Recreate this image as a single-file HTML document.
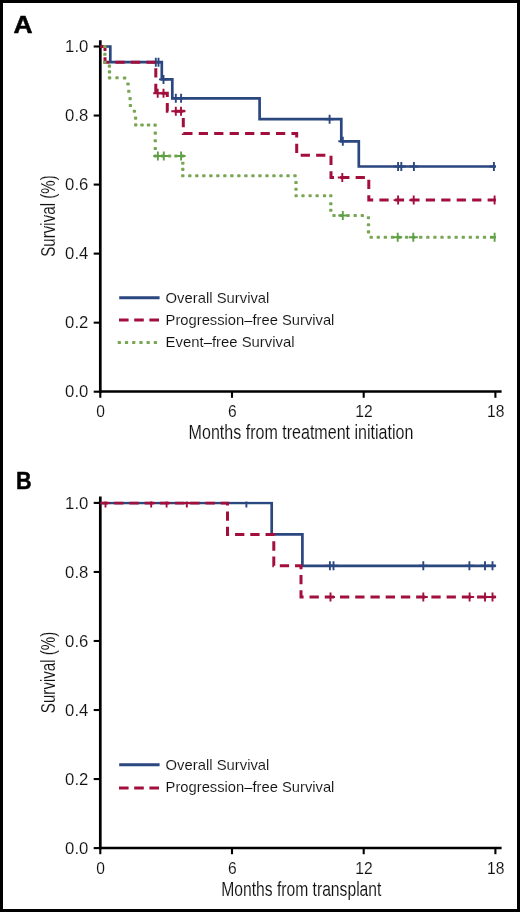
<!DOCTYPE html><html><head><meta charset="utf-8"><style>html,body{margin:0;padding:0;background:#fff;}svg{display:block;will-change:transform;}text{font-family:"Liberation Sans",sans-serif;stroke:#fff;stroke-width:0.1px;paint-order:fill;}</style></head><body>
<svg width="520" height="912" viewBox="0 0 520 912">
<rect x="0" y="0" width="520" height="912" fill="#fff"/>
<rect x="1.5" y="1.5" width="517" height="909" fill="none" stroke="#000" stroke-width="3"/>
<line x1="100.3" y1="40.2" x2="100.3" y2="392.8" stroke="#000" stroke-width="2.7"/>
<line x1="99" y1="391.6" x2="501.6" y2="391.6" stroke="#000" stroke-width="2.5"/>
<line x1="93.7" y1="391.70" x2="100.3" y2="391.70" stroke="#000" stroke-width="2.1"/>
<text transform="translate(88.3,397.30) scale(1.07,1)" font-size="15.6" fill="#111111" text-anchor="end">0.0</text>
<line x1="93.7" y1="322.66" x2="100.3" y2="322.66" stroke="#000" stroke-width="2.1"/>
<text transform="translate(88.3,328.26) scale(1.07,1)" font-size="15.6" fill="#111111" text-anchor="end">0.2</text>
<line x1="93.7" y1="253.62" x2="100.3" y2="253.62" stroke="#000" stroke-width="2.1"/>
<text transform="translate(88.3,259.22) scale(1.07,1)" font-size="15.6" fill="#111111" text-anchor="end">0.4</text>
<line x1="93.7" y1="184.58" x2="100.3" y2="184.58" stroke="#000" stroke-width="2.1"/>
<text transform="translate(88.3,190.18) scale(1.07,1)" font-size="15.6" fill="#111111" text-anchor="end">0.6</text>
<line x1="93.7" y1="115.54" x2="100.3" y2="115.54" stroke="#000" stroke-width="2.1"/>
<text transform="translate(88.3,121.14) scale(1.07,1)" font-size="15.6" fill="#111111" text-anchor="end">0.8</text>
<line x1="93.7" y1="46.50" x2="100.3" y2="46.50" stroke="#000" stroke-width="2.1"/>
<text transform="translate(88.3,52.10) scale(1.07,1)" font-size="15.6" fill="#111111" text-anchor="end">1.0</text>
<line x1="100.30" y1="391.6" x2="100.30" y2="397.8" stroke="#000" stroke-width="2.1"/>
<text x="100.60" y="416.8" font-size="15.6" fill="#111111" text-anchor="middle">0</text>
<line x1="232.00" y1="391.6" x2="232.00" y2="397.8" stroke="#000" stroke-width="2.1"/>
<text x="232.30" y="416.8" font-size="15.6" fill="#111111" text-anchor="middle">6</text>
<line x1="363.70" y1="391.6" x2="363.70" y2="397.8" stroke="#000" stroke-width="2.1"/>
<text x="364.00" y="416.8" font-size="15.6" fill="#111111" text-anchor="middle">12</text>
<line x1="495.40" y1="391.6" x2="495.40" y2="397.8" stroke="#000" stroke-width="2.1"/>
<text x="495.70" y="416.8" font-size="15.6" fill="#111111" text-anchor="middle">18</text>
<text x="188.6" y="438.8" font-size="19.3" fill="#111111" textLength="224.8" lengthAdjust="spacingAndGlyphs">Months from treatment initiation</text>
<text transform="translate(54.8,216.0) rotate(-90)" x="0" y="0" font-size="19.8" fill="#111111" text-anchor="middle" textLength="81.5" lengthAdjust="spacingAndGlyphs">Survival (%)</text>
<text transform="translate(13.4,32.7) scale(1.1,1)" font-size="24" font-weight="bold" fill="#000" style="stroke:#000;stroke-width:0.5px">A</text>
<line x1="100.3" y1="496.59999999999997" x2="100.3" y2="849.2" stroke="#000" stroke-width="2.7"/>
<line x1="99" y1="848.0" x2="501.6" y2="848.0" stroke="#000" stroke-width="2.5"/>
<line x1="93.7" y1="848.10" x2="100.3" y2="848.10" stroke="#000" stroke-width="2.1"/>
<text transform="translate(88.3,853.70) scale(1.07,1)" font-size="15.6" fill="#111111" text-anchor="end">0.0</text>
<line x1="93.7" y1="779.06" x2="100.3" y2="779.06" stroke="#000" stroke-width="2.1"/>
<text transform="translate(88.3,784.66) scale(1.07,1)" font-size="15.6" fill="#111111" text-anchor="end">0.2</text>
<line x1="93.7" y1="710.02" x2="100.3" y2="710.02" stroke="#000" stroke-width="2.1"/>
<text transform="translate(88.3,715.62) scale(1.07,1)" font-size="15.6" fill="#111111" text-anchor="end">0.4</text>
<line x1="93.7" y1="640.98" x2="100.3" y2="640.98" stroke="#000" stroke-width="2.1"/>
<text transform="translate(88.3,646.58) scale(1.07,1)" font-size="15.6" fill="#111111" text-anchor="end">0.6</text>
<line x1="93.7" y1="571.94" x2="100.3" y2="571.94" stroke="#000" stroke-width="2.1"/>
<text transform="translate(88.3,577.54) scale(1.07,1)" font-size="15.6" fill="#111111" text-anchor="end">0.8</text>
<line x1="93.7" y1="502.90" x2="100.3" y2="502.90" stroke="#000" stroke-width="2.1"/>
<text transform="translate(88.3,508.50) scale(1.07,1)" font-size="15.6" fill="#111111" text-anchor="end">1.0</text>
<line x1="100.30" y1="848.0" x2="100.30" y2="854.2" stroke="#000" stroke-width="2.1"/>
<text x="100.60" y="874.2" font-size="15.6" fill="#111111" text-anchor="middle">0</text>
<line x1="232.00" y1="848.0" x2="232.00" y2="854.2" stroke="#000" stroke-width="2.1"/>
<text x="232.30" y="874.2" font-size="15.6" fill="#111111" text-anchor="middle">6</text>
<line x1="363.70" y1="848.0" x2="363.70" y2="854.2" stroke="#000" stroke-width="2.1"/>
<text x="364.00" y="874.2" font-size="15.6" fill="#111111" text-anchor="middle">12</text>
<line x1="495.40" y1="848.0" x2="495.40" y2="854.2" stroke="#000" stroke-width="2.1"/>
<text x="495.70" y="874.2" font-size="15.6" fill="#111111" text-anchor="middle">18</text>
<text x="221.2" y="895.6" font-size="19.3" fill="#111111" textLength="160.2" lengthAdjust="spacingAndGlyphs">Months from transplant</text>
<text transform="translate(54.8,672.4) rotate(-90)" x="0" y="0" font-size="19.8" fill="#111111" text-anchor="middle" textLength="81.5" lengthAdjust="spacingAndGlyphs">Survival (%)</text>
<text transform="translate(16.0,489.1) scale(0.9,1)" font-size="24" font-weight="bold" fill="#000" style="stroke:#000;stroke-width:0.5px">B</text>
<defs><clipPath id="cA"><rect x="99" y="44.9" width="397.1" height="360"/></clipPath><clipPath id="cB"><rect x="99" y="501.5" width="397.1" height="360"/></clipPath></defs>
<g clip-path="url(#cA)">
<path d="M100.3 46.5 H110.3 V62.2 H161.8 V79.4 H172.3 V98.3 H259.6 V119.2 H341.3 V141.3 H358.8 V166.5 H495.6" fill="none" stroke="#2a4780" stroke-width="2.7" stroke-linejoin="miter" stroke-linecap="butt"/>
<path d="M155.8 57.7V66.7M151.3 62.2H160.3" stroke="#2a4780" stroke-width="1.9" fill="none"/>
<path d="M158.5 57.7V66.7M154.0 62.2H163.0" stroke="#2a4780" stroke-width="1.9" fill="none"/>
<path d="M163.5 74.9V83.9M159.0 79.4H168.0" stroke="#2a4780" stroke-width="1.9" fill="none"/>
<path d="M175.8 93.8V102.8M171.3 98.3H180.3" stroke="#2a4780" stroke-width="1.9" fill="none"/>
<path d="M181.1 93.8V102.8M176.6 98.3H185.6" stroke="#2a4780" stroke-width="1.9" fill="none"/>
<path d="M329.6 114.7V123.7M325.1 119.2H334.1" stroke="#2a4780" stroke-width="1.9" fill="none"/>
<path d="M342.8 136.8V145.8M338.3 141.3H347.3" stroke="#2a4780" stroke-width="1.9" fill="none"/>
<path d="M398.1 162.0V171.0M393.6 166.5H402.6" stroke="#2a4780" stroke-width="1.9" fill="none"/>
<path d="M401.3 162.0V171.0M396.8 166.5H405.8" stroke="#2a4780" stroke-width="1.9" fill="none"/>
<path d="M413.9 162.0V171.0M409.4 166.5H418.4" stroke="#2a4780" stroke-width="1.9" fill="none"/>
<path d="M493.9 162.0V171.0M489.4 166.5H498.4" stroke="#2a4780" stroke-width="1.9" fill="none"/>
<path d="M100.3 46.5 H105 V62.2 H155.8 V93.3 H167.3 V111.3 H183.3 V133.5 H296.7 V155.2 H331 V177.5 H368.8 V200.1 H495.6" fill="none" stroke="#a20f3c" stroke-width="3.0" stroke-dasharray="9.25 6.206" stroke-dashoffset="0.06" stroke-linecap="butt"/>
<path d="M157.7 88.8V97.8M153.2 93.3H162.2" stroke="#a20f3c" stroke-width="1.9" fill="none"/>
<path d="M163.5 88.8V97.8M159.0 93.3H168.0" stroke="#a20f3c" stroke-width="1.9" fill="none"/>
<path d="M175.8 106.8V115.8M171.3 111.3H180.3" stroke="#a20f3c" stroke-width="1.9" fill="none"/>
<path d="M181.0 106.8V115.8M176.5 111.3H185.5" stroke="#a20f3c" stroke-width="1.9" fill="none"/>
<path d="M342.3 173.0V182.0M337.8 177.5H346.8" stroke="#a20f3c" stroke-width="1.9" fill="none"/>
<path d="M398.1 195.6V204.6M393.6 200.1H402.6" stroke="#a20f3c" stroke-width="1.9" fill="none"/>
<path d="M413.7 195.6V204.6M409.2 200.1H418.2" stroke="#a20f3c" stroke-width="1.9" fill="none"/>
<path d="M494.6 195.6V204.6M490.1 200.1H499.1" stroke="#a20f3c" stroke-width="1.9" fill="none"/>
<rect x="103.25" y="44.95" width="3.3" height="3.1" rx="0.9" fill="#78a653"/><rect x="103.25" y="52.75" width="3.3" height="3.1" rx="0.9" fill="#78a653"/><rect x="103.25" y="60.65" width="3.3" height="3.1" rx="0.9" fill="#78a653"/><rect x="107.75" y="64.55" width="3.3" height="3.1" rx="0.9" fill="#78a653"/><rect x="107.85" y="70.35" width="3.3" height="3.1" rx="0.9" fill="#78a653"/><rect x="107.95" y="76.35" width="3.3" height="3.1" rx="0.9" fill="#78a653"/><rect x="115.35" y="76.25" width="3.3" height="3.1" rx="0.9" fill="#78a653"/><rect x="122.95" y="76.45" width="3.3" height="3.1" rx="0.9" fill="#78a653"/><rect x="126.35" y="82.45" width="3.3" height="3.1" rx="0.9" fill="#78a653"/><rect x="127.15" y="89.75" width="3.3" height="3.1" rx="0.9" fill="#78a653"/><rect x="128.45" y="97.05" width="3.3" height="3.1" rx="0.9" fill="#78a653"/><rect x="128.75" y="103.95" width="3.3" height="3.1" rx="0.9" fill="#78a653"/><rect x="132.75" y="109.65" width="3.3" height="3.1" rx="0.9" fill="#78a653"/><rect x="133.95" y="116.55" width="3.3" height="3.1" rx="0.9" fill="#78a653"/><rect x="134.05" y="123.35" width="3.3" height="3.1" rx="0.9" fill="#78a653"/><rect x="140.35" y="123.45" width="3.3" height="3.1" rx="0.9" fill="#78a653"/><rect x="146.85" y="123.45" width="3.3" height="3.1" rx="0.9" fill="#78a653"/><rect x="153.45" y="123.55" width="3.3" height="3.1" rx="0.9" fill="#78a653"/><rect x="153.65" y="131.55" width="3.3" height="3.1" rx="0.9" fill="#78a653"/><rect x="153.65" y="139.25" width="3.3" height="3.1" rx="0.9" fill="#78a653"/><rect x="153.65" y="146.95" width="3.3" height="3.1" rx="0.9" fill="#78a653"/><rect x="153.65" y="154.45" width="3.3" height="3.1" rx="0.9" fill="#78a653"/><rect x="160.75" y="154.45" width="3.3" height="3.1" rx="0.9" fill="#78a653"/><rect x="167.95" y="154.45" width="3.3" height="3.1" rx="0.9" fill="#78a653"/><rect x="174.25" y="154.45" width="3.3" height="3.1" rx="0.9" fill="#78a653"/><rect x="181.15" y="154.45" width="3.3" height="3.1" rx="0.9" fill="#78a653"/><rect x="181.15" y="161.65" width="3.3" height="3.1" rx="0.9" fill="#78a653"/><rect x="181.15" y="167.85" width="3.3" height="3.1" rx="0.9" fill="#78a653"/><rect x="181.15" y="174.25" width="3.3" height="3.1" rx="0.9" fill="#78a653"/><rect x="188.16" y="174.25" width="3.3" height="3.1" rx="0.9" fill="#78a653"/><rect x="195.18" y="174.25" width="3.3" height="3.1" rx="0.9" fill="#78a653"/><rect x="202.19" y="174.25" width="3.3" height="3.1" rx="0.9" fill="#78a653"/><rect x="209.20" y="174.25" width="3.3" height="3.1" rx="0.9" fill="#78a653"/><rect x="216.21" y="174.25" width="3.3" height="3.1" rx="0.9" fill="#78a653"/><rect x="223.22" y="174.25" width="3.3" height="3.1" rx="0.9" fill="#78a653"/><rect x="230.24" y="174.25" width="3.3" height="3.1" rx="0.9" fill="#78a653"/><rect x="237.25" y="174.25" width="3.3" height="3.1" rx="0.9" fill="#78a653"/><rect x="244.26" y="174.25" width="3.3" height="3.1" rx="0.9" fill="#78a653"/><rect x="251.28" y="174.25" width="3.3" height="3.1" rx="0.9" fill="#78a653"/><rect x="258.29" y="174.25" width="3.3" height="3.1" rx="0.9" fill="#78a653"/><rect x="265.30" y="174.25" width="3.3" height="3.1" rx="0.9" fill="#78a653"/><rect x="272.31" y="174.25" width="3.3" height="3.1" rx="0.9" fill="#78a653"/><rect x="279.33" y="174.25" width="3.3" height="3.1" rx="0.9" fill="#78a653"/><rect x="286.34" y="174.25" width="3.3" height="3.1" rx="0.9" fill="#78a653"/><rect x="293.35" y="174.25" width="3.3" height="3.1" rx="0.9" fill="#78a653"/><rect x="294.35" y="180.95" width="3.3" height="3.1" rx="0.9" fill="#78a653"/><rect x="294.35" y="187.65" width="3.3" height="3.1" rx="0.9" fill="#78a653"/><rect x="294.45" y="194.15" width="3.3" height="3.1" rx="0.9" fill="#78a653"/><rect x="301.35" y="194.15" width="3.3" height="3.1" rx="0.9" fill="#78a653"/><rect x="308.45" y="194.15" width="3.3" height="3.1" rx="0.9" fill="#78a653"/><rect x="315.45" y="194.15" width="3.3" height="3.1" rx="0.9" fill="#78a653"/><rect x="322.85" y="194.15" width="3.3" height="3.1" rx="0.9" fill="#78a653"/><rect x="329.15" y="194.15" width="3.3" height="3.1" rx="0.9" fill="#78a653"/><rect x="329.15" y="202.25" width="3.3" height="3.1" rx="0.9" fill="#78a653"/><rect x="329.15" y="208.75" width="3.3" height="3.1" rx="0.9" fill="#78a653"/><rect x="332.35" y="213.95" width="3.3" height="3.1" rx="0.9" fill="#78a653"/><rect x="339.45" y="213.95" width="3.3" height="3.1" rx="0.9" fill="#78a653"/><rect x="346.45" y="213.95" width="3.3" height="3.1" rx="0.9" fill="#78a653"/><rect x="353.55" y="213.95" width="3.3" height="3.1" rx="0.9" fill="#78a653"/><rect x="360.65" y="213.95" width="3.3" height="3.1" rx="0.9" fill="#78a653"/><rect x="366.75" y="216.15" width="3.3" height="3.1" rx="0.9" fill="#78a653"/><rect x="366.85" y="223.25" width="3.3" height="3.1" rx="0.9" fill="#78a653"/><rect x="366.85" y="230.35" width="3.3" height="3.1" rx="0.9" fill="#78a653"/><rect x="369.55" y="235.75" width="3.3" height="3.1" rx="0.9" fill="#78a653"/><rect x="376.63" y="235.75" width="3.3" height="3.1" rx="0.9" fill="#78a653"/><rect x="383.71" y="235.75" width="3.3" height="3.1" rx="0.9" fill="#78a653"/><rect x="390.79" y="235.75" width="3.3" height="3.1" rx="0.9" fill="#78a653"/><rect x="397.87" y="235.75" width="3.3" height="3.1" rx="0.9" fill="#78a653"/><rect x="404.95" y="235.75" width="3.3" height="3.1" rx="0.9" fill="#78a653"/><rect x="412.03" y="235.75" width="3.3" height="3.1" rx="0.9" fill="#78a653"/><rect x="419.11" y="235.75" width="3.3" height="3.1" rx="0.9" fill="#78a653"/><rect x="426.19" y="235.75" width="3.3" height="3.1" rx="0.9" fill="#78a653"/><rect x="433.27" y="235.75" width="3.3" height="3.1" rx="0.9" fill="#78a653"/><rect x="440.35" y="235.75" width="3.3" height="3.1" rx="0.9" fill="#78a653"/><rect x="447.43" y="235.75" width="3.3" height="3.1" rx="0.9" fill="#78a653"/><rect x="454.51" y="235.75" width="3.3" height="3.1" rx="0.9" fill="#78a653"/><rect x="461.59" y="235.75" width="3.3" height="3.1" rx="0.9" fill="#78a653"/><rect x="468.67" y="235.75" width="3.3" height="3.1" rx="0.9" fill="#78a653"/><rect x="475.75" y="235.75" width="3.3" height="3.1" rx="0.9" fill="#78a653"/><rect x="482.83" y="235.75" width="3.3" height="3.1" rx="0.9" fill="#78a653"/><rect x="489.91" y="235.75" width="3.3" height="3.1" rx="0.9" fill="#78a653"/>
<path d="M157.9 151.5V160.5M153.4 156H162.4" stroke="#5ea045" stroke-width="1.9" fill="none"/>
<path d="M163.8 151.5V160.5M159.3 156H168.3" stroke="#5ea045" stroke-width="1.9" fill="none"/>
<path d="M181.1 151.5V160.5M176.6 156H185.6" stroke="#5ea045" stroke-width="1.9" fill="none"/>
<path d="M342.8 211.0V220.0M338.3 215.5H347.3" stroke="#5ea045" stroke-width="1.9" fill="none"/>
<path d="M397.7 232.8V241.8M393.2 237.3H402.2" stroke="#5ea045" stroke-width="1.9" fill="none"/>
<path d="M413.3 232.8V241.8M408.8 237.3H417.8" stroke="#5ea045" stroke-width="1.9" fill="none"/>
<path d="M494.6 232.8V241.8M490.1 237.3H499.1" stroke="#5ea045" stroke-width="1.9" fill="none"/>
</g>
<g clip-path="url(#cB)">
<path d="M100.3 503 H271.7 V534.4 H302.4 V565.8 H495.6" fill="none" stroke="#2a4780" stroke-width="2.7" stroke-linejoin="miter" stroke-linecap="butt"/>
<path d="M246.4 498.5V507.5M241.9 503H250.9" stroke="#2a4780" stroke-width="1.9" fill="none"/>
<path d="M329.9 561.3V570.3M325.4 565.8H334.4" stroke="#2a4780" stroke-width="1.9" fill="none"/>
<path d="M333.5 561.3V570.3M329.0 565.8H338.0" stroke="#2a4780" stroke-width="1.9" fill="none"/>
<path d="M423.3 561.3V570.3M418.8 565.8H427.8" stroke="#2a4780" stroke-width="1.9" fill="none"/>
<path d="M469.4 561.3V570.3M464.9 565.8H473.9" stroke="#2a4780" stroke-width="1.9" fill="none"/>
<path d="M485.0 561.3V570.3M480.5 565.8H489.5" stroke="#2a4780" stroke-width="1.9" fill="none"/>
<path d="M492.5 561.3V570.3M488.0 565.8H497.0" stroke="#2a4780" stroke-width="1.9" fill="none"/>
<path d="M100.3 503 H227.5 V534.4 H273.8 V565.8 H301 V597 H495.6" fill="none" stroke="#a20f3c" stroke-width="3.0" stroke-dasharray="9.3 5.93" stroke-dashoffset="1.37" stroke-linecap="butt"/>
<path d="M105.5 498.5V507.5M101.0 503H110.0" stroke="#a20f3c" stroke-width="1.9" fill="none"/>
<path d="M151.2 498.5V507.5M146.7 503H155.7" stroke="#a20f3c" stroke-width="1.9" fill="none"/>
<path d="M166.6 498.5V507.5M162.1 503H171.1" stroke="#a20f3c" stroke-width="1.9" fill="none"/>
<path d="M186.8 498.5V507.5M182.3 503H191.3" stroke="#a20f3c" stroke-width="1.9" fill="none"/>
<path d="M330.5 592.5V601.5M326.0 597H335.0" stroke="#a20f3c" stroke-width="1.9" fill="none"/>
<path d="M423.3 592.5V601.5M418.8 597H427.8" stroke="#a20f3c" stroke-width="1.9" fill="none"/>
<path d="M469.6 592.5V601.5M465.1 597H474.1" stroke="#a20f3c" stroke-width="1.9" fill="none"/>
<path d="M485.0 592.5V601.5M480.5 597H489.5" stroke="#a20f3c" stroke-width="1.9" fill="none"/>
<path d="M492.5 592.5V601.5M488.0 597H497.0" stroke="#a20f3c" stroke-width="1.9" fill="none"/>
</g>
<line x1="119.2" y1="297.7" x2="159.6" y2="297.7" stroke="#2a4780" stroke-width="3"/>
<text x="165.6" y="302.6" font-size="15" fill="#111111" textLength="103.8" lengthAdjust="spacingAndGlyphs">Overall Survival</text>
<line x1="119.0" y1="320.1" x2="159" y2="320.1" stroke="#a20f3c" stroke-width="3" stroke-dasharray="9.6 5.6"/>
<text x="165.6" y="324.8" font-size="15" fill="#111111" textLength="168.8" lengthAdjust="spacingAndGlyphs">Progression–free Survival</text>
<rect x="117.65" y="340.95" width="3.3" height="3.1" rx="0.9" fill="#78a653"/><rect x="124.87" y="340.95" width="3.3" height="3.1" rx="0.9" fill="#78a653"/><rect x="132.09" y="340.95" width="3.3" height="3.1" rx="0.9" fill="#78a653"/><rect x="139.31" y="340.95" width="3.3" height="3.1" rx="0.9" fill="#78a653"/><rect x="146.53" y="340.95" width="3.3" height="3.1" rx="0.9" fill="#78a653"/><rect x="153.75" y="340.95" width="3.3" height="3.1" rx="0.9" fill="#78a653"/>
<text x="165.6" y="347.1" font-size="15" fill="#111111" textLength="129.0" lengthAdjust="spacingAndGlyphs">Event–free Survival</text>
<line x1="119.2" y1="764.8" x2="159.6" y2="764.8" stroke="#2a4780" stroke-width="3"/>
<text x="165.6" y="769.5" font-size="15" fill="#111111" textLength="103.8" lengthAdjust="spacingAndGlyphs">Overall Survival</text>
<line x1="119.0" y1="787.9" x2="159" y2="787.9" stroke="#a20f3c" stroke-width="3" stroke-dasharray="9.6 5.6"/>
<text x="165.6" y="792.3" font-size="15" fill="#111111" textLength="168.8" lengthAdjust="spacingAndGlyphs">Progression–free Survival</text>
</svg></body></html>
